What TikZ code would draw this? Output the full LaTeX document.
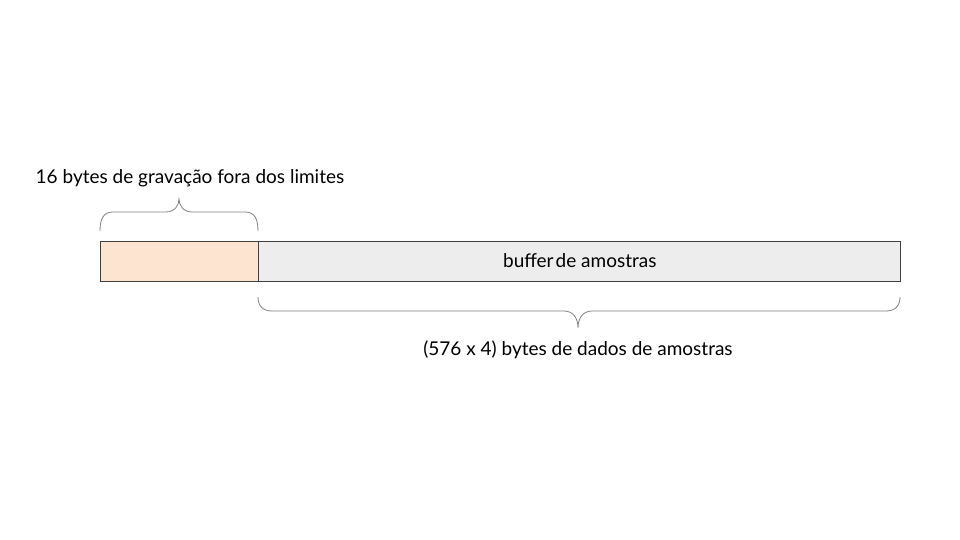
\documentclass[tikz,border=0pt]{standalone}
\usepackage{fontspec}
\setmainfont{Lato}
\usetikzlibrary{positioning}
\definecolor{edgegrey}{HTML}{404040}
\definecolor{bracegrey}{HTML}{7F7F7F}
\definecolor{overflow}{HTML}{FCE4D0}
\definecolor{buffergrey}{HTML}{EDEDED}

\begin{document}
\begin{tikzpicture}[x=1pt, y=-1pt]
% Define styles
\tikzstyle{cell} = [rectangle, minimum height=40pt, inner sep=0pt, draw=edgegrey, line width=0.8pt, text centered]
\tikzstyle{label} = [font=\fontsize{19}{23}\selectfont, text=black, inner sep=0pt]
\tikzstyle{curly} = [draw=bracegrey, line width=0.8pt]

\useasboundingbox (0,0) rectangle (960,540);

% Nodes
\node (guard) [cell, fill=overflow, minimum width=158pt] at (179,261) {};
\node (buffer) [cell, fill=buffergrey, minimum width=642pt, right=0pt of guard, font=\fontsize{19}{23}\selectfont] {buffer\hspace{-0.15em} de amostras};
\node (guardtxt) [label] at (190,178) {16 bytes de gravação fora dos limites};
\node (buffertxt) [label] at (578,350) {(576 x 4) bytes de dados de amostras};

% Braces
\draw[curly] (100,231) .. controls (100,218) and (104,212) .. (113,212)
  -- (166,212) .. controls (175,212) and (179,205) .. (179,199)
  .. controls (179,205) and (183,212) .. (192,212)
  -- (245,212) .. controls (254,212) and (258,218) .. (258,231);
\draw[curly] (258,297) .. controls (258,306) and (263,311) .. (272,311)
  -- (564,311) .. controls (573,311) and (578,318) .. (578,328)
  .. controls (578,318) and (583,311) .. (592,311)
  -- (886,311) .. controls (895,311) and (900,306) .. (900,297);
\end{tikzpicture}
\end{document}
